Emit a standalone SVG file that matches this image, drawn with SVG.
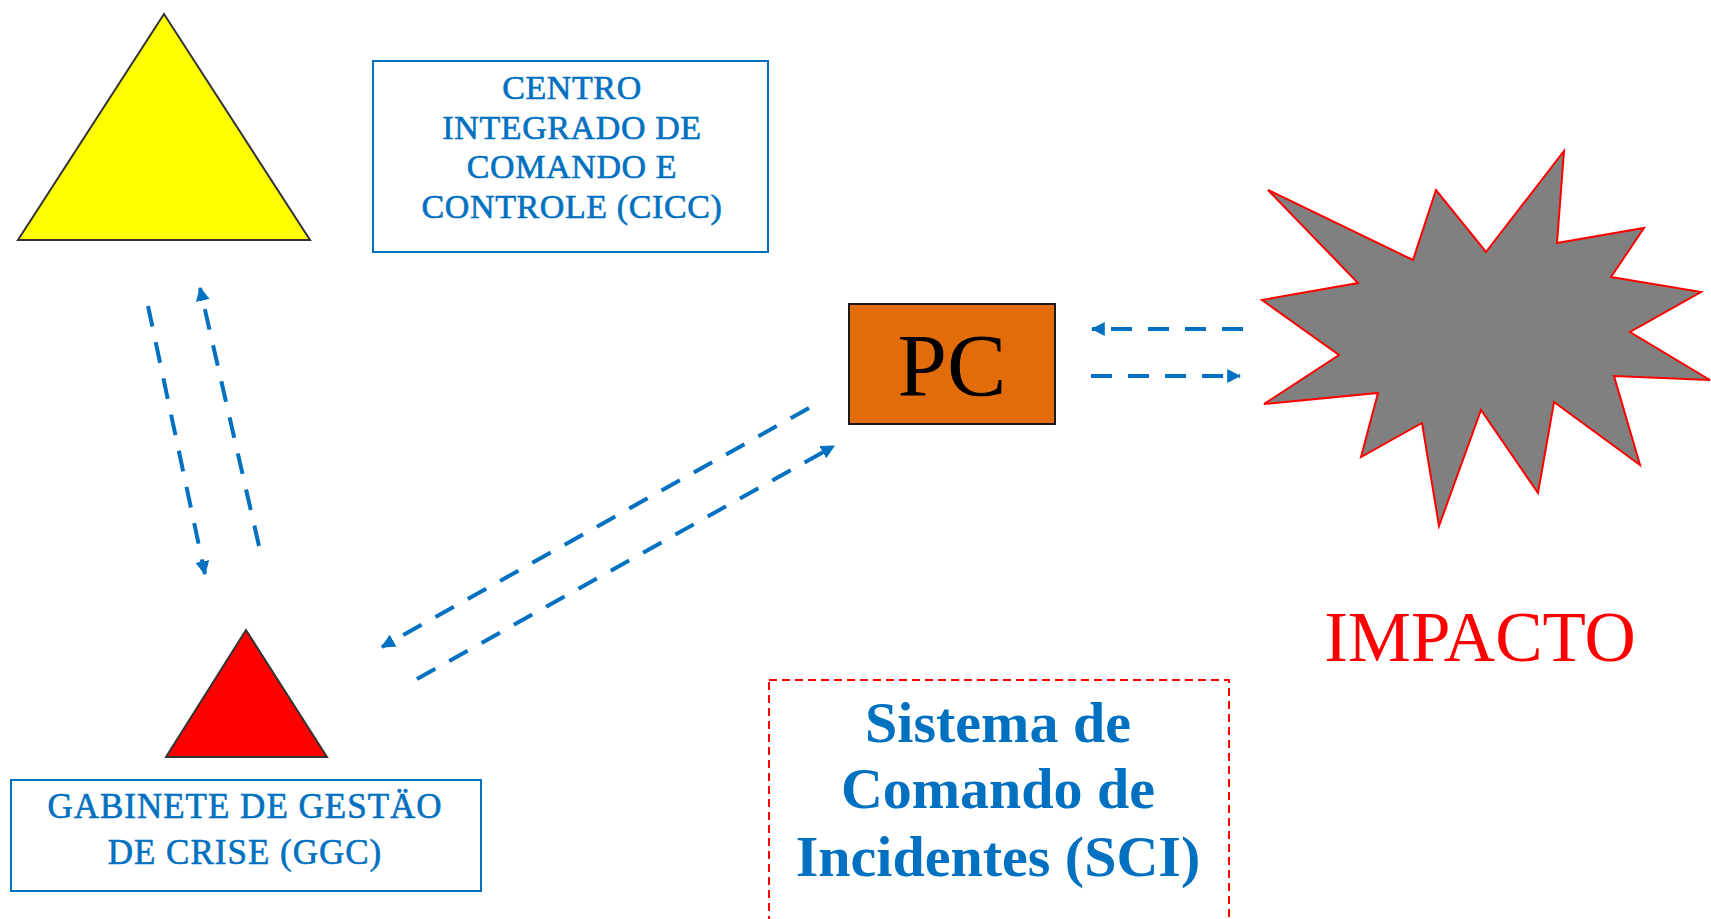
<svg xmlns="http://www.w3.org/2000/svg" width="1711" height="919" viewBox="0 0 1711 919">
<defs>
<style>
.lbl{font-family:"Liberation Serif","Times New Roman",serif;fill:#0070C0;text-anchor:middle;stroke:#0070C0;stroke-width:0.6}
.box{fill:#fff;stroke:#0070C0;stroke-width:2}
.conn{fill:none;stroke:#0070C0;stroke-width:4;stroke-dasharray:21 16}
</style>
<marker id="ah" viewBox="0 0 12 12" refX="11" refY="6" markerWidth="14" markerHeight="14" markerUnits="userSpaceOnUse" orient="auto">
<path d="M0,0 L12,6 L0,12 z" fill="#0070C0"/>
</marker>
</defs>
<rect width="1711" height="919" fill="#fff"/>

<g id="cicc-triangle">
<polygon points="164,14 18,240 310,240" fill="#FFFF00" stroke="#333" stroke-width="2"/>
</g>
<g id="cicc">
<rect class="box" x="373" y="61" width="395" height="191"/>
<text class="lbl" font-size="34" letter-spacing="0.6" x="572"><tspan x="572" y="99">CENTRO</tspan><tspan x="572" y="139">INTEGRADO DE</tspan><tspan x="572" y="178">COMANDO E</tspan><tspan x="572" y="218">CONTROLE (CICC)</tspan></text>
</g>

<g id="pc">
<rect x="849" y="304" width="206" height="120" fill="#E26B0A" stroke="#1a1a1a" stroke-width="2"/>
<text x="952" y="395" font-family="Liberation Serif, serif" font-size="89" text-anchor="middle" fill="#000">PC</text>
</g>

<g id="impacto">
<polygon points="1268,190 1413,260 1436,190 1486,252 1564,151 1557,243 1644,228 1611,277 1701,292 1630,332 1710,380 1614,376 1640,465 1554,402 1538,493 1481,410 1439,526 1422,423 1361,457 1378,393 1264,404 1339,355 1262,300 1358,283" fill="#808080" stroke="#FF0000" stroke-width="2" stroke-linejoin="miter"/>
<text x="1480" y="661" font-family="Liberation Serif, serif" font-size="71" text-anchor="middle" fill="#FF0000">IMPACTO</text>
</g>

<g id="ggc-triangle">
<polygon points="246,630 166,757 327,757" fill="#FF0000" stroke="#333" stroke-width="2"/>
</g>
<g id="ggc">
<rect class="box" x="11" y="780" width="470" height="111"/>
<text class="lbl" font-size="35" letter-spacing="1" x="245"><tspan x="245" y="818">GABINETE DE GESTÄO</tspan><tspan x="245" y="864">DE CRISE (GGC)</tspan></text>
</g>

<g id="sci">
<rect x="769" y="680" width="460" height="260" fill="none" stroke="#FF0000" stroke-width="2" stroke-dasharray="8 5"/>
<text class="lbl" font-size="58" font-weight="bold" x="998" style="stroke-width:0"><tspan x="998" y="742">Sistema de</tspan><tspan x="998" y="808">Comando de</tspan><tspan x="998" y="876">Incidentes (SCI)</tspan></text>
</g>

<g id="connectors">
<path class="conn" d="M148,306 L205,574" marker-end="url(#ah)"/>
<path class="conn" d="M259,546 L200,288" marker-end="url(#ah)"/>
<path class="conn" d="M809,408 L382,647" marker-end="url(#ah)"/>
<path class="conn" d="M417,679 L834,446" marker-end="url(#ah)"/>
<path class="conn" d="M1243,329 L1092,329" marker-end="url(#ah)"/>
<path class="conn" d="M1091,376 L1240,376" marker-end="url(#ah)"/>
</g>
</svg>
